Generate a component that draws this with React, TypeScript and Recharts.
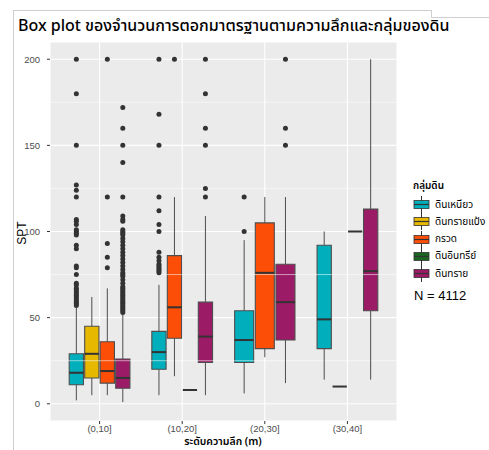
import React from 'react'
import {
  ComposedChart,
  Scatter,
  XAxis,
  YAxis,
  CartesianGrid,
  ReferenceArea,
  ReferenceLine,
} from 'recharts'

// ระดับความลึก
const depthLabels = ['(0,10]', '(10,20]', '(20,30]', '(30,40]']
// กลุ่มดิน
const soilGroups = ['ดินเหนียว', 'ดินทรายแป้ง', 'กรวด', 'ดินอินทรีย์', 'ดินทราย']
const soilColors = ['#00AFBB', '#E7B800', '#FC4E07', '#1A6620', '#9C1B66']

// box statistics (one entry per box, in dodge order)
const boxDepth = [0, 0, 0, 0, 1, 1, 1, 1, 2, 2, 2, 3, 3, 3, 3]
const boxGroup = [0, 1, 2, 4, 0, 2, 3, 4, 0, 2, 4, 0, 2, 3, 4]
const boxLow = [2, 5, 5, 1, 5, 16, 8, 5, 6, 27, 12, 14, 10, 100, 14]
const boxQ1 = [11, 15, 12, 9, 20, 38, 8, 24, 24, 32, 37, 32, 10, 100, 54]
const boxMedian = [18, 29, 19, 15, 30, 56, 8, 39, 37, 76, 59, 49, 10, 100, 77]
const boxQ3 = [29, 45, 36, 26, 42, 86, 8, 59, 54, 105, 81, 92, 10, 100, 113]
const boxHigh = [56, 62, 67, 52, 69, 120, 8, 109, 95, 120, 120, 100, 10, 100, 200]
const boxOutliers: number[][] = [
  [200, 180, 150, 127, 124, 120, 107, 106, 104, 101, 100, 99, 98, 92, 90, 80, 79, 75, 70, 69, 67, 66, 65, 64, 63, 62, 61, 60, 59, 58, 57],
  [],
  [200, 120, 93, 85, 79],
  [172, 160, 150, 140, 120, 109, 107, 106, 101, 100, 99, 98, 96, 94, 92, 90, 88, 86, 84, 82, 80, 78, 76, 75, 74, 72, 70, 68, 67, 66, 65, 64, 63, 62, 61, 60, 59, 58, 57, 56, 55, 54, 53],
  [200, 168, 150, 120, 112, 104, 100, 88, 85, 83, 81, 80, 79, 78, 77, 76],
  [200],
  [],
  [200, 180, 160, 150, 125, 120],
  [120, 100],
  [],
  [200, 160, 150],
  [],
  [],
  [],
  [],
]

const yTicks = [0, 50, 100, 150, 200]
const yMinor = [25, 75, 125, 175]

// dodge layout
const dodgeWidth = 0.75
const boxes = boxDepth.map((d, i) => {
  const members = boxDepth.map((v, j) => (v === d ? j : -1)).filter((j) => j >= 0)
  const slot = dodgeWidth / members.length
  const pos = members.indexOf(i)
  const cx = d + 1 - dodgeWidth / 2 + (pos + 0.5) * slot
  return {
    cx,
    half: slot * 0.46,
    color: soilColors[boxGroup[i]],
    low: boxLow[i],
    q1: boxQ1[i],
    med: boxMedian[i],
    q3: boxQ3[i],
    high: boxHigh[i],
  }
})

const outlierPoints = boxes.flatMap((b, i) => boxOutliers[i].map((v) => ({ x: b.cx, y: v })))

const font = "'Noto Sans Thai', 'Noto Sans', 'Liberation Sans', sans-serif"
const tickStyle = { fontSize: 9.5, fill: '#4D4D4D', fontFamily: "'Liberation Sans', Arial, sans-serif" }

const LegendKey = ({ color }: { color: string }) => (
  <svg width={17} height={17} style={{ display: 'block' }}>
    <line x1={8.5} y1={0} x2={8.5} y2={17} stroke="#333" strokeWidth={1} />
    <rect x={1} y={4.5} width={15} height={8} fill={color} stroke="#333" strokeWidth={0.8} />
    <line x1={1} y1={8.5} x2={16} y2={8.5} stroke="#333" strokeWidth={1.2} />
  </svg>
)

export default function App() {
  return (
    <div style={{ position: 'absolute', left: 0, top: 0, width: 489, height: 450, background: '#fff', overflow: 'hidden', fontFamily: font }}>
      {/* frame lines */}
      <div style={{ position: 'absolute', left: 13, top: 10, width: 418, height: 1, background: '#CFCFCF' }} />
      <div style={{ position: 'absolute', left: 13, top: 10, width: 1, height: 440, background: '#CFCFCF' }} />
      <div style={{ position: 'absolute', left: 431, top: 10, width: 1, height: 8, background: '#CFCFCF' }} />
      <div style={{ position: 'absolute', left: 431, top: 17, width: 58, height: 1, background: '#CFCFCF' }} />

      <div style={{ position: 'absolute', left: 18, top: 14, fontSize: 16, color: '#000', whiteSpace: 'nowrap', fontWeight: 500 }}>
        Box plot ของจำนวนการตอกมาตรฐานตามความลึกและกลุ่มของดิน
      </div>

      <ComposedChart
        width={489}
        height={450}
        margin={{ top: 42, right: 92, bottom: 11, left: 14 }}
        style={{ position: 'absolute', left: 0, top: 0 }}
      >
        <CartesianGrid fill="#EBEBEB" stroke="#FFFFFF" strokeWidth={1.1} />
        <XAxis
          type="number"
          dataKey="x"
          domain={[0.4, 4.6]}
          ticks={[1, 2, 3, 4]}
          tickFormatter={(v: number) => depthLabels[v - 1]}
          height={18}
          tickSize={3}
          tickMargin={1}
          axisLine={false}
          tickLine={{ stroke: '#333' }}
          tick={tickStyle}
          allowDataOverflow
        />
        <YAxis
          type="number"
          dataKey="y"
          domain={[-10, 210]}
          ticks={yTicks}
          width={36}
          tickSize={3}
          tickMargin={7}
          axisLine={false}
          tickLine={{ stroke: '#333' }}
          tick={tickStyle}
          allowDataOverflow
        />
        {yMinor.map((v) => (
          <ReferenceLine key={`m${v}`} y={v} stroke="#FFFFFF" strokeWidth={0.55} />
        ))}
        {boxes.map((b, i) => (
          <ReferenceLine
            key={`wl${i}`}
            segment={[{ x: b.cx, y: b.low }, { x: b.cx, y: b.q1 }]}
            stroke="#4D4D4D"
            strokeWidth={1}
          />
        ))}
        {boxes.map((b, i) => (
          <ReferenceLine
            key={`wh${i}`}
            segment={[{ x: b.cx, y: b.q3 }, { x: b.cx, y: b.high }]}
            stroke="#4D4D4D"
            strokeWidth={1}
          />
        ))}
        {boxes.map((b, i) => (
          <ReferenceArea
            key={`b${i}`}
            x1={b.cx - b.half}
            x2={b.cx + b.half}
            y1={b.q1}
            y2={b.q3}
            fill={b.color}
            fillOpacity={1}
            stroke="#4D4D4D"
            strokeWidth={1.1}
          />
        ))}
        {boxes.map((b, i) => (
          <ReferenceLine
            key={`md${i}`}
            segment={[{ x: b.cx - b.half, y: b.med }, { x: b.cx + b.half, y: b.med }]}
            stroke="#333333"
            strokeWidth={2}
          />
        ))}
        <Scatter
          data={outlierPoints}
          isAnimationActive={false}
          shape={(p: any) => <circle cx={p.cx} cy={p.cy} r={2.5} fill="#333333" />}
        />
      </ComposedChart>

      {/* axis titles */}
      <div style={{ position: 'absolute', left: 22, top: 233, transform: 'translate(-50%, -50%) rotate(-90deg)', fontSize: 12, color: '#000', fontFamily: "'Liberation Sans', Arial, sans-serif" }}>
        SPT
      </div>
      <div style={{ position: 'absolute', left: 223, top: 436, transform: 'translateX(-50%)', fontSize: 10.5, lineHeight: '12px', fontWeight: 600, color: '#000', whiteSpace: 'nowrap' }}>
        ระดับความลึก (m)
      </div>

      {/* legend */}
      <div style={{ position: 'absolute', left: 413, top: 178, fontSize: 10, fontWeight: 600, color: '#000' }}>กลุ่มดิน</div>
      {soilGroups.map((g, i) => (
        <div key={g} style={{ position: 'absolute', left: 413, top: 196 + i * 17.3, display: 'flex', alignItems: 'center', height: 17 }}>
          <LegendKey color={soilColors[i]} />
          <span style={{ marginLeft: 5, fontSize: 10, color: '#000', whiteSpace: 'nowrap' }}>{g}</span>
        </div>
      ))}
      <div style={{ position: 'absolute', left: 414, top: 288, fontSize: 13, fontWeight: 500, color: '#000', fontFamily: "'Liberation Sans', Arial, sans-serif" }}>
        N = 4112
      </div>
    </div>
  )
}
